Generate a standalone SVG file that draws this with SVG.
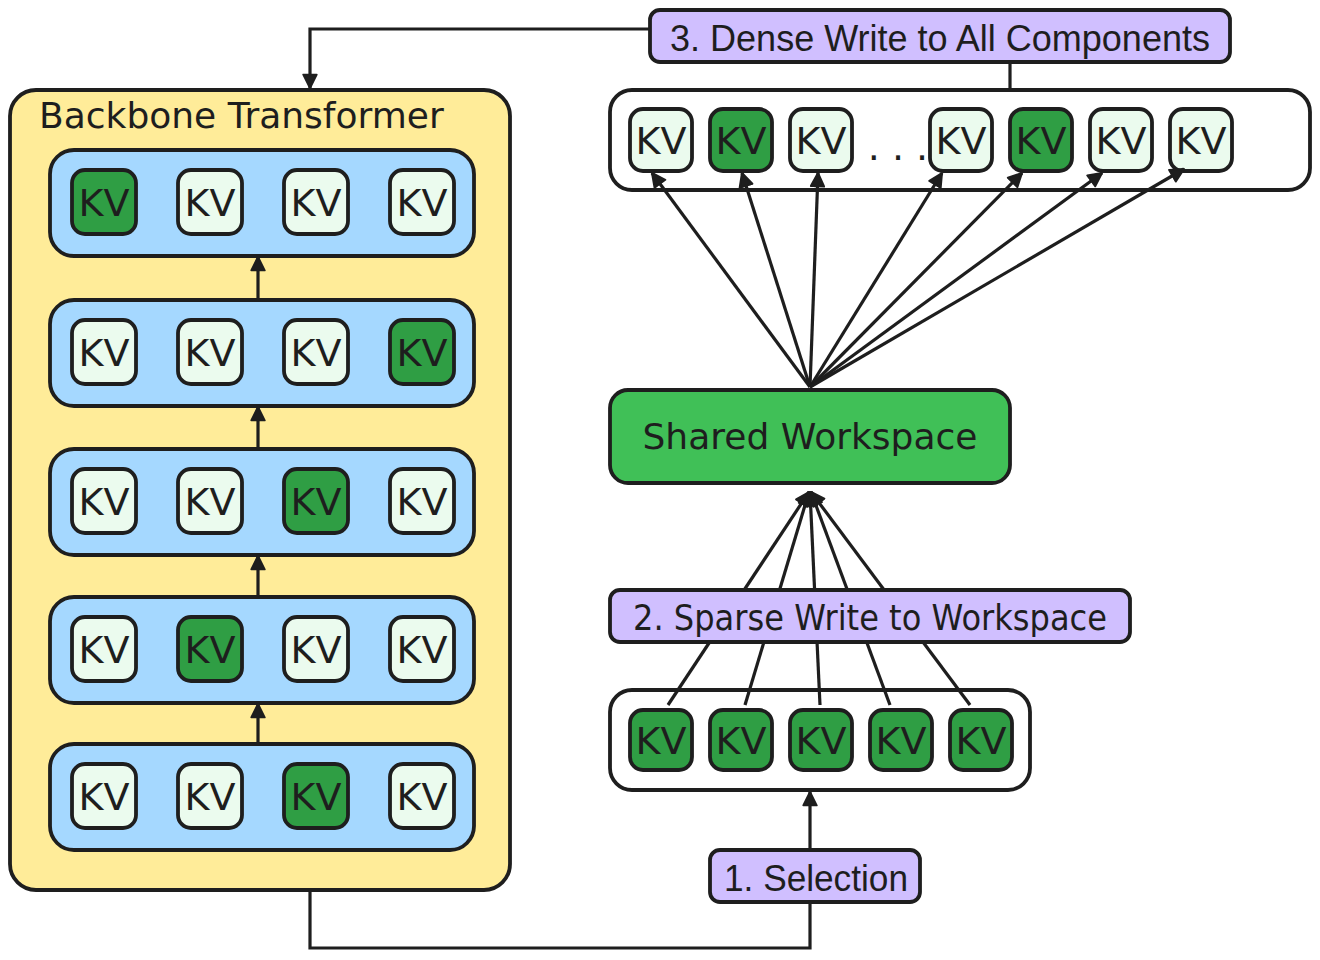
<svg xmlns="http://www.w3.org/2000/svg" width="1320" height="960" viewBox="0 0 1320 960">
<style>
.stk{stroke:#1e1e1e;stroke-width:3.8;stroke-linejoin:round}
.ln{stroke:#1e1e1e;stroke-width:3.2;fill:none}
.on{fill:#2f9e44}
.off{fill:#ebfbee}
.kv{font-family:"DejaVu Sans",sans-serif;font-size:38px;fill:#1e1e1e;text-anchor:middle}
.t1{font-family:"DejaVu Sans",sans-serif;font-size:36px;fill:#1e1e1e}
.t2{font-family:"Liberation Sans",Arial,sans-serif;font-size:36px;fill:#1e1e1e}
.lbl{fill:#d0bfff}
</style>
<defs>
<marker id="ah" viewBox="0 0 12 12" refX="11" refY="6" markerWidth="16" markerHeight="16" markerUnits="userSpaceOnUse" orient="auto">
<path d="M1,1 L11,6 L1,11 Z" fill="#1e1e1e" stroke="#1e1e1e" stroke-width="1.5" stroke-linejoin="round"/>
</marker>
</defs>

<g id="backbone">
<rect x="10" y="90" width="500" height="800" rx="26" fill="#ffec99" class="stk"/>
<text x="39" y="128" class="t1">Backbone Transformer</text>
</g>

<g id="layer1">
<rect x="50" y="150" width="424" height="106" rx="24" fill="#a5d8ff" class="stk"/>
<rect x="72" y="170" width="64" height="64" rx="13" class="stk on"/><text x="104" y="216" class="kv">KV</text>
<rect x="178" y="170" width="64" height="64" rx="13" class="stk off"/><text x="210" y="216" class="kv">KV</text>
<rect x="284" y="170" width="64" height="64" rx="13" class="stk off"/><text x="316" y="216" class="kv">KV</text>
<rect x="390" y="170" width="64" height="64" rx="13" class="stk off"/><text x="422" y="216" class="kv">KV</text>
</g>
<g id="layer2">
<rect x="50" y="300" width="424" height="106" rx="24" fill="#a5d8ff" class="stk"/>
<rect x="72" y="320" width="64" height="64" rx="13" class="stk off"/><text x="104" y="366" class="kv">KV</text>
<rect x="178" y="320" width="64" height="64" rx="13" class="stk off"/><text x="210" y="366" class="kv">KV</text>
<rect x="284" y="320" width="64" height="64" rx="13" class="stk off"/><text x="316" y="366" class="kv">KV</text>
<rect x="390" y="320" width="64" height="64" rx="13" class="stk on"/><text x="422" y="366" class="kv">KV</text>
</g>
<g id="layer3">
<rect x="50" y="449" width="424" height="106" rx="24" fill="#a5d8ff" class="stk"/>
<rect x="72" y="469" width="64" height="64" rx="13" class="stk off"/><text x="104" y="515" class="kv">KV</text>
<rect x="178" y="469" width="64" height="64" rx="13" class="stk off"/><text x="210" y="515" class="kv">KV</text>
<rect x="284" y="469" width="64" height="64" rx="13" class="stk on"/><text x="316" y="515" class="kv">KV</text>
<rect x="390" y="469" width="64" height="64" rx="13" class="stk off"/><text x="422" y="515" class="kv">KV</text>
</g>
<g id="layer4">
<rect x="50" y="597" width="424" height="106" rx="24" fill="#a5d8ff" class="stk"/>
<rect x="72" y="617" width="64" height="64" rx="13" class="stk off"/><text x="104" y="663" class="kv">KV</text>
<rect x="178" y="617" width="64" height="64" rx="13" class="stk on"/><text x="210" y="663" class="kv">KV</text>
<rect x="284" y="617" width="64" height="64" rx="13" class="stk off"/><text x="316" y="663" class="kv">KV</text>
<rect x="390" y="617" width="64" height="64" rx="13" class="stk off"/><text x="422" y="663" class="kv">KV</text>
</g>
<g id="layer5">
<rect x="50" y="744" width="424" height="106" rx="24" fill="#a5d8ff" class="stk"/>
<rect x="72" y="764" width="64" height="64" rx="13" class="stk off"/><text x="104" y="810" class="kv">KV</text>
<rect x="178" y="764" width="64" height="64" rx="13" class="stk off"/><text x="210" y="810" class="kv">KV</text>
<rect x="284" y="764" width="64" height="64" rx="13" class="stk on"/><text x="316" y="810" class="kv">KV</text>
<rect x="390" y="764" width="64" height="64" rx="13" class="stk off"/><text x="422" y="810" class="kv">KV</text>
</g>

<g id="components">
<rect x="610" y="90" width="700" height="100" rx="22" fill="#ffffff" class="stk"/>
<rect x="630" y="109" width="62" height="62" rx="13" class="stk off"/><text x="661" y="154" class="kv">KV</text>
<rect x="710" y="109" width="62" height="62" rx="13" class="stk on"/><text x="741" y="154" class="kv">KV</text>
<rect x="790" y="109" width="62" height="62" rx="13" class="stk off"/><text x="821" y="154" class="kv">KV</text>
<text x="898" y="160" class="kv" font-size="30">. . .</text>
<rect x="930" y="109" width="62" height="62" rx="13" class="stk off"/><text x="961" y="154" class="kv">KV</text>
<rect x="1010" y="109" width="62" height="62" rx="13" class="stk on"/><text x="1041" y="154" class="kv">KV</text>
<rect x="1090" y="109" width="62" height="62" rx="13" class="stk off"/><text x="1121" y="154" class="kv">KV</text>
<rect x="1170" y="109" width="62" height="62" rx="13" class="stk off"/><text x="1201" y="154" class="kv">KV</text>
</g>

<g id="selected">
<rect x="610" y="690" width="420" height="100" rx="22" fill="#ffffff" class="stk"/>
<rect x="630" y="710" width="62" height="60" rx="13" class="stk on"/><text x="661" y="754" class="kv">KV</text>
<rect x="710" y="710" width="62" height="60" rx="13" class="stk on"/><text x="741" y="754" class="kv">KV</text>
<rect x="790" y="710" width="62" height="60" rx="13" class="stk on"/><text x="821" y="754" class="kv">KV</text>
<rect x="870" y="710" width="62" height="60" rx="13" class="stk on"/><text x="901" y="754" class="kv">KV</text>
<rect x="950" y="710" width="62" height="60" rx="13" class="stk on"/><text x="981" y="754" class="kv">KV</text>
</g>

<g id="workspace">
<rect x="610" y="390" width="400" height="93" rx="18" fill="#40c057" class="stk"/>
<text x="810" y="449" class="t1" text-anchor="middle">Shared Workspace</text>
</g>

<g id="connectors">
<line x1="258" y1="300" x2="258" y2="257" class="ln" marker-end="url(#ah)"/>
<line x1="258" y1="449" x2="258" y2="407" class="ln" marker-end="url(#ah)"/>
<line x1="258" y1="597" x2="258" y2="556" class="ln" marker-end="url(#ah)"/>
<line x1="258" y1="744" x2="258" y2="704" class="ln" marker-end="url(#ah)"/>
<path d="M1010,90 L1010,29 L310,29 L310,88" class="ln" marker-end="url(#ah)"/>
<path d="M310,890 L310,948 L810,948 L810,792" class="ln" marker-end="url(#ah)"/>
<line x1="810" y1="387" x2="652" y2="173" class="ln" marker-end="url(#ah)"/>
<line x1="810" y1="387" x2="742" y2="173" class="ln" marker-end="url(#ah)"/>
<line x1="810" y1="387" x2="818" y2="173" class="ln" marker-end="url(#ah)"/>
<line x1="810" y1="387" x2="942" y2="173" class="ln" marker-end="url(#ah)"/>
<line x1="810" y1="387" x2="1022" y2="173" class="ln" marker-end="url(#ah)"/>
<line x1="810" y1="387" x2="1102" y2="173" class="ln" marker-end="url(#ah)"/>
<line x1="810" y1="387" x2="1184" y2="169" class="ln" marker-end="url(#ah)"/>
<line x1="668" y1="705" x2="809" y2="492" class="ln" marker-end="url(#ah)"/>
<line x1="745" y1="705" x2="809" y2="492" class="ln" marker-end="url(#ah)"/>
<line x1="820" y1="705" x2="810" y2="492" class="ln" marker-end="url(#ah)"/>
<line x1="890" y1="705" x2="811" y2="492" class="ln" marker-end="url(#ah)"/>
<line x1="970" y1="705" x2="811" y2="492" class="ln" marker-end="url(#ah)"/>
</g>

<g id="label-dense">
<rect x="650" y="10" width="580" height="52" rx="10" class="stk lbl"/>
<text x="940" y="51" class="t2" text-anchor="middle" textLength="540" lengthAdjust="spacingAndGlyphs">3. Dense Write to All Components</text>
</g>
<g id="label-sparse">
<rect x="610" y="590" width="520" height="52" rx="10" class="stk lbl"/>
<text x="870" y="630" class="t1" font-size="32" text-anchor="middle" textLength="474" lengthAdjust="spacingAndGlyphs">2. Sparse Write to Workspace</text>
</g>
<g id="label-selection">
<rect x="710" y="850" width="210" height="52" rx="10" class="stk lbl"/>
<text x="816" y="891" class="t2" text-anchor="middle" textLength="184" lengthAdjust="spacingAndGlyphs">1. Selection</text>
</g>
</svg>
